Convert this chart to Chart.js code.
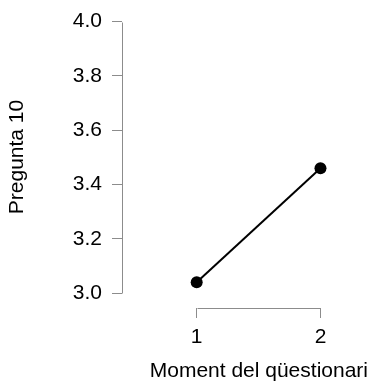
<!DOCTYPE html>
<html>
<head>
<meta charset="utf-8">
<script src="https://cdn.jsdelivr.net/npm/chart.js@4/dist/chart.umd.min.js"></script>
<style>
  html, body { margin: 0; padding: 0; background: #fff; }
  #wrap { width: 375px; height: 385px; }
</style>
</head>
<body>
<div id="wrap"><canvas id="lineChart"></canvas></div>
<script>
const moments = [1, 2];
const pregunta10 = [3.04, 3.46];
const yTicks = [3.0, 3.2, 3.4, 3.6, 3.8, 4.0];
const xTicks = [1, 2];

const axisGrey = '#8c8c8c';
const font = { family: '"Liberation Sans", Arial, sans-serif', size: 21 };

// R-style axes: the axis line only spans first to last tick
const rangeAxes = {
  id: 'rangeAxes',
  afterDraw(chart) {
    const { ctx, chartArea, scales } = chart;
    const x = scales.x, y = scales.y;
    ctx.save();
    ctx.strokeStyle = axisGrey;
    ctx.lineWidth = 1;
    ctx.beginPath();
    const ax = Math.round(chartArea.left) + 0.5;
    ctx.moveTo(ax, Math.round(y.getPixelForValue(yTicks[0])) + 0.5);
    ctx.lineTo(ax, Math.round(y.getPixelForValue(yTicks[yTicks.length - 1])) + 0.5);
    const ay = Math.round(chartArea.bottom) + 0.5;
    ctx.moveTo(Math.round(x.getPixelForValue(xTicks[0])) + 0.5, ay);
    ctx.lineTo(Math.round(x.getPixelForValue(xTicks[xTicks.length - 1])) + 0.5, ay);
    ctx.stroke();
    ctx.restore();
  }
};

new Chart(document.getElementById('lineChart'), {
  type: 'line',
  data: {
    datasets: [{
      data: moments.map((m, i) => ({ x: m, y: pregunta10[i] })),
      borderColor: '#000',
      backgroundColor: '#000',
      borderWidth: 2,
      pointRadius: 6,
      pointBackgroundColor: '#000',
      pointBorderWidth: 0
    }]
  },
  options: {
    responsive: true,
    maintainAspectRatio: false,
    animation: false,
    layout: { padding: { top: 5, left: 0, bottom: 0, right: 7 } },
    plugins: { legend: { display: false }, tooltip: { enabled: false } },
    scales: {
      x: {
        type: 'linear',
        min: 0.3966,
        max: 2.384,
        afterBuildTicks: s => { s.ticks = xTicks.map(v => ({ value: v })); },
        afterFit: s => {
          s.height = 77;
          s.paddingLeft = 0;
          s.paddingRight = 0;
        },
        border: { display: false },
        grid: { drawOnChartArea: false, drawTicks: true, tickLength: 10, color: axisGrey },
        ticks: { color: '#000', font, padding: 7, maxRotation: 0 },
        title: {
          display: true,
          align: 'end',
          text: 'Moment del qüestionari',
          color: '#000',
          font,
          padding: { top: 0, bottom: 1 }
        }
      },
      y: {
        min: 2.9449,
        max: 4.0577,
        afterBuildTicks: s => { s.ticks = yTicks.map(v => ({ value: v })); },
        afterFit: s => {
          s.width = 122;
          s.paddingTop = 0;
          s.paddingBottom = 0;
        },
        border: { display: false },
        grid: { drawOnChartArea: false, drawTicks: true, tickLength: 10, color: axisGrey },
        ticks: { color: '#000', font, padding: 10, callback: v => v.toFixed(1) },
        title: {
          display: true,
          text: 'Pregunta 10',
          color: '#000',
          font,
          padding: { top: 5, bottom: 0 }
        }
      }
    }
  },
  plugins: [rangeAxes]
});
</script>
</body>
</html>
